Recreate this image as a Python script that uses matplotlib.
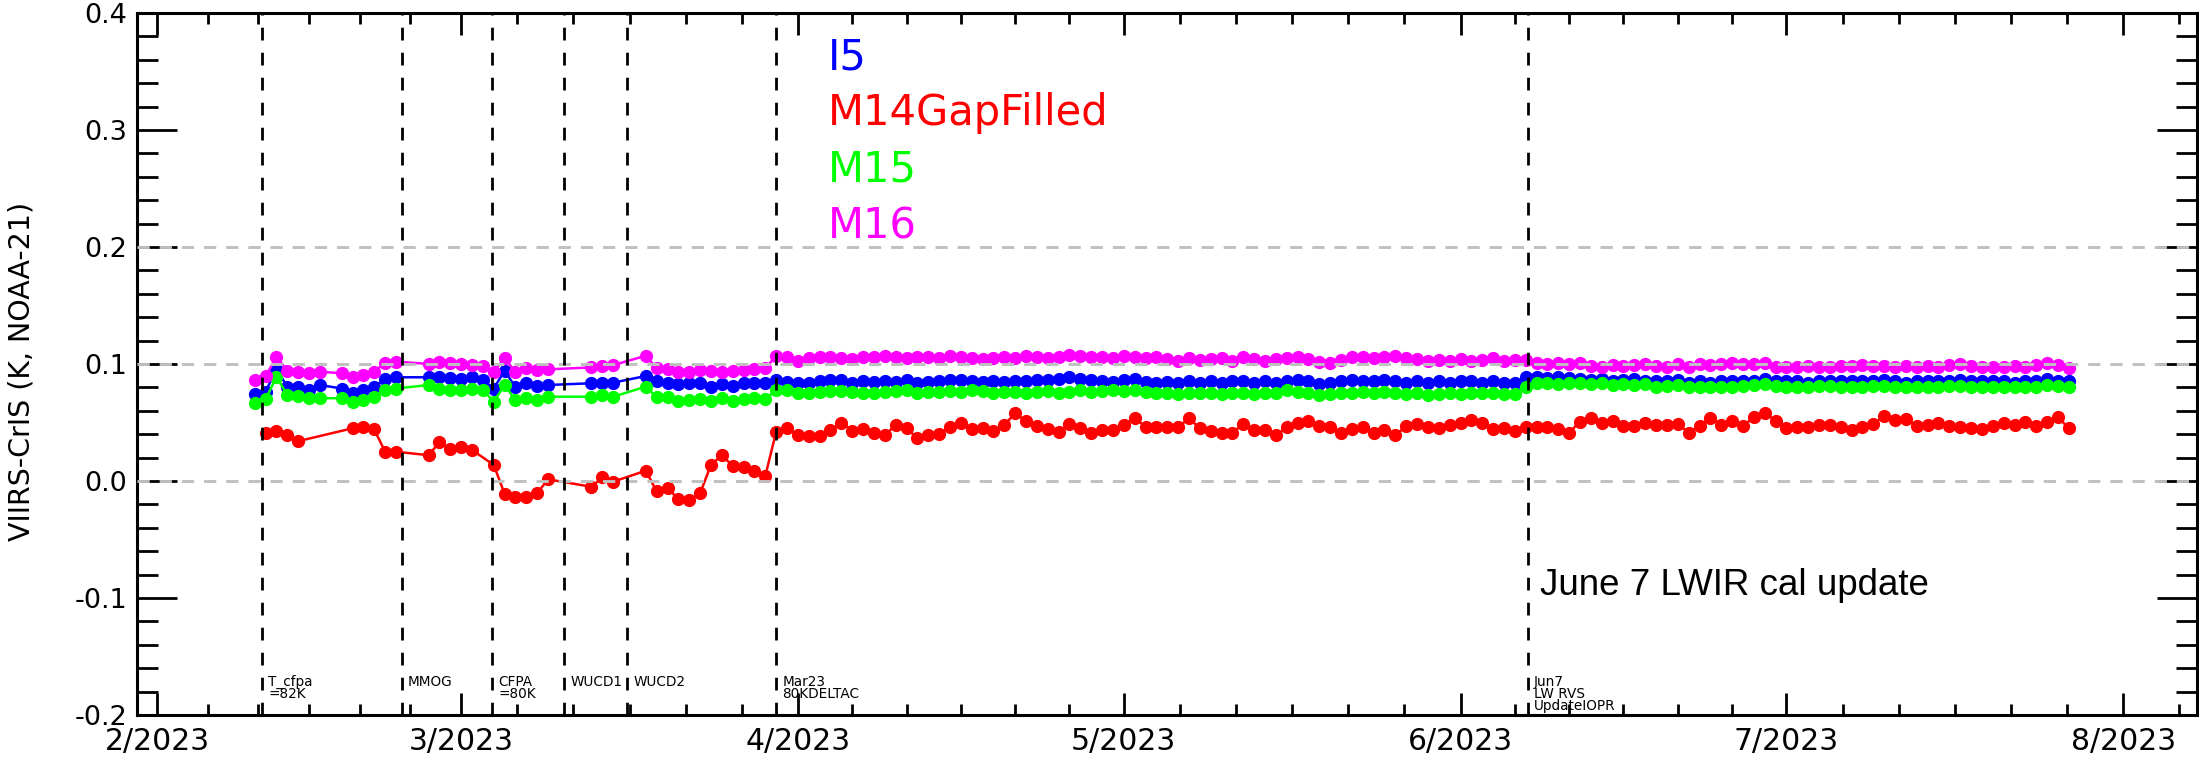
import numpy as np
import matplotlib
matplotlib.use('Agg')
import matplotlib.pyplot as plt
import matplotlib.dates as mdates
import datetime as dt

# day offsets are counted from 1 Feb 2023
start = dt.datetime(2023, 2, 1)
t0 = mdates.date2num(start)

days_bands = (list(range(9, 16)) + list(range(17, 23)) + list(range(25, 37))
              + [40, 41, 42] + list(range(45, 177)))
days_m14 = ([10, 11, 12, 13] + list(range(18, 23)) + list(range(25, 30))
            + list(range(31, 37)) + [40, 41, 42] + list(range(45, 177)))

i5 = [.0744, .0764, .0954, .0806, .0800, .0778, .0820,
      .0790, .0755, .0778, .0806, .0869, .0886,
      .0886, .0886, .0877, .0869, .0886, .0863, .0790, .0943, .0800, .0835, .0812, .0820,
      .0835, .0835, .0840,
      .0897, .0850, .0840, .0829, .0835, .0835, .0806, .0829, .0812, .0835, .0840, .0835,
      .0863, .0849, .0835, .0840, .0858, .0863, .0863, .0835, .0858, .0849,
      .0858, .0849, .0863, .0840, .0849, .0858, .0863, .0863, .0858, .0849,
      .0858, .0849, .0858, .0858, .0863, .0863, .0869, .0886, .0869, .0863,
      .0858, .0849, .0863, .0869, .0849, .0840, .0849, .0835,
      .085, .084, .085, .0835, .085, .085, .084, .085, .084, .0858,
      .0863, .085, .083, .084, .085, .0863, .0858, .085, .0863, .085,
      .084, .085, .084, .085, .084, .085, .085, .084, .085, .084, .0835,
      .0886, .0892, .0877, .0886, .0877, .0869, .0863, .0869, .0858, .0863, .0869, .0858,
      .085, .0858, .0863, .084, .085, .084, .085, .0858, .085, .0858,
      .0869, .0858, .085, .0858, .084, .085, .0858, .085, .0858, .085,
      .0858, .0863, .085, .084, .085, .085, .0858, .0858, .0863, .0858,
      .085, .0858, .085, .084, .0858, .0858, .0869, .0858, .085]

m14 = [.0407, .043, .039, .034,
       .045, .046, .044, .025, .025,
       .022, .033, .027, .029, .0265,
       .0137, -.011, -.0134, -.0134, -.0105, .0014,
       -.005, .003, -.0006,
       .0088, -.009, -.006, -.0157, -.016, -.0105, .0137, .022, .0128, .012, .0085, .0043,
       .042, .045, .039, .0387, .0387, .0436, .0499, .043, .044, .0407,
       .039, .0479, .045, .0365, .039, .040, .0464, .0499, .044, .045,
       .043, .0479, .0578, .0513, .047, .044, .042, .049, .045, .0407,
       .0436, .0436, .0479, .0536, .0464, .0464, .0464, .0459,
       .0536, .045, .043, .0413, .0413, .0487, .0436, .0436, .039, .0459,
       .0499, .0516, .047, .0459, .0407, .044, .0459, .0413, .0436, .039,
       .047, .0487, .0459, .045, .0479, .0493, .0521, .0493, .044, .045,
       .043, .0459, .0464, .0459, .044, .0413, .0507, .0536, .0499, .0516,
       .047, .047, .0493,
       .0479, .048, .049, .0413, .047, .0536, .048, .0516, .047, .0544,
       .0584, .0516, .045, .0459, .0459, .048, .048, .0459, .0436, .0459,
       .0487, .0556, .0521, .0527, .047, .048, .0499, .047, .0459, .045,
       .044, .047, .0493, .048, .0507, .047, .0507, .0544, .045]

m15 = [.067, .0698, .089, .0735, .0727, .0707, .0707,
       .0707, .0678, .0692, .072, .0778, .079,
       .082, .079, .078, .078, .079, .0778, .0678, .082, .069, .0707, .069, .072,
       .072, .0735, .072,
       .0806, .0715, .0715, .0687, .069, .0698, .0687, .0707, .0687, .0698, .0707, .0698,
       .0778, .0778, .0755, .0749, .0764, .0772, .0772, .0764, .0749, .0755,
       .0764, .0772, .0778, .0755, .0764, .0764, .0772, .0764, .0778, .0772,
       .0755, .0764, .0764, .0755, .0764, .0772, .0755, .0764, .0778, .0764,
       .0772, .0778, .0772, .0778, .0764, .0755, .0749, .0744,
       .0755, .0749, .0755, .0744, .0755, .0749, .0744, .0755, .0749, .0778,
       .0764, .0749, .0735, .0744, .0755, .0755, .0764, .0749, .0764, .0755,
       .0744, .0749, .0735, .0744, .0749, .0744, .0749, .0755, .0749, .0744, .0744,
       .0806, .0835, .084, .0829, .0835, .084, .0829, .0835, .0821, .0829, .0821, .0829,
       .0806, .0812, .0821, .0801, .0806, .0806, .0801, .0806, .0812, .0821,
       .0829, .0812, .0806, .0801, .0806, .0812, .0812, .0806, .0801, .0806,
       .0812, .0812, .0806, .0801, .0801, .0806, .0806, .0812, .0812, .0806,
       .0806, .0801, .0806, .0801, .0806, .0801, .0821, .0812, .0801]

m16 = [.0863, .0897, .1057, .0943, .0929, .092, .0934,
       .092, .0886, .0906, .0934, .101, .102,
       .100, .102, .1006, .100, .099, .098, .0934, .1048, .0934, .0963, .0949, .0954,
       .097, .098, .099,
       .107, .0963, .0954, .0934, .0934, .0949, .0943, .0934, .0943, .0949, .0954, .0963,
       .1068, .1063, .1028, .1048, .1063, .1057, .1048, .104, .1057, .1063,
       .1068, .1057, .1048, .1063, .1057, .1048, .1068, .1057, .1048, .104,
       .1048, .1057, .1048, .1068, .1057, .1048, .1063, .1077, .1068, .1057,
       .1063, .1048, .1068, .1057, .1048, .1057, .104, .1028,
       .1048, .1034, .104, .1048, .1028, .1057, .104, .1028, .104, .1048,
       .1057, .104, .102, .1011, .1034, .1063, .1057, .1048, .1063, .1068,
       .1048, .104, .1028, .1034, .1028, .104, .1028, .1034, .1048, .1028, .1034,
       .1034, .1011, .1, .1006, .1, .1011, .0983, .0977, .0991, .0983, .0991, .1,
       .0983, .0977, .1, .0972, .1, .0991, .1, .1011, .1, .1,
       .1011, .0977, .0972, .0977, .0983, .0977, .0972, .0983, .0983, .0991,
       .0983, .0983, .0977, .0983, .0977, .0983, .0977, .0991, .1, .0983,
       .0977, .0972, .0977, .0983, .0972, .0991, .1006, .0991, .0963]

band_names = ['I5', 'M14GapFilled', 'M15', 'M16']
band_colors = ['#0000ff', '#ff0000', '#00ff00', '#ff00ff']

# instrument events (day offsets) and their notes
event_days = [9.67, 22.56, 30.85, 37.48, 43.28, 57.0, 126.2]
event_notes = ['T_cfpa\n=82K', 'MMOG', 'CFPA\n=80K', 'WUCD1', 'WUCD2',
               'Mar23\n80KDELTAC', 'Jun7\nLW RVS\nUpdateIOPR']

tick_labels = ['2/2023', '3/2023', '4/2023', '5/2023', '6/2023', '7/2023', '8/2023']

fig = plt.figure(figsize=(21.99, 7.59), dpi=100)
ax = fig.add_axes([0.0623, 0.058, 0.9368, 0.925])

xb = t0 + np.array(days_bands)
xr = t0 + np.array(days_m14)
series = [(xb, i5), (xr, m14), (xb, m15), (xb, m16)]
for (xx, yy), c in zip(series, band_colors):
    ax.plot(xx, yy, '-', color=c, lw=1.8, marker='o', ms=8.5, mec=c, mfc=c, zorder=2)

for yv in [0.0, 0.1, 0.2]:
    ax.axhline(yv, color='#c0c0c0', lw=2.1, dashes=(4.2, 3.4), zorder=3)

for d, note in zip(event_days, event_notes):
    ax.axvline(t0 + d, color='black', lw=2.0, dashes=(4.6, 4.4), zorder=4)
    ax.text(t0 + d + 0.55, -0.166, note, fontsize=9.8, va='top', ha='left',
            linespacing=0.8, zorder=5)

# coloured band names
for k, (name, c) in enumerate(zip(band_names, band_colors)):
    ax.text(t0 + 61.8, 0.352 - k * 0.0482, name, color=c, fontsize=30,
            va='baseline', ha='left')

ax.text(t0 + 127.35, -0.0974, 'June 7 LWIR cal update', fontsize=26.5,
        family='Liberation Sans', va='baseline', ha='left')

# month ticks with six minor divisions per month
months = [mdates.date2num(dt.datetime(2023, m, 1)) for m in range(1, 10)]
minor = []
for a, b in zip(months[:-1], months[1:]):
    minor += [a + k * (b - a) / 6.0 for k in range(1, 6)]
ax.set_xticks(months[1:8])
ax.set_xticklabels(tick_labels, fontsize=21.5)
ax.set_xticks(minor, minor=True)
ax.set_xlim(t0 - 1.84, t0 + 187.8)

yt = [-0.2, -0.1, 0.0, 0.1, 0.2, 0.3, 0.4]
ax.set_yticks(yt)
ax.set_yticklabels(['%.1f' % v for v in yt], fontsize=19.5)
ax.set_yticks(np.arange(-0.2, 0.401, 0.02), minor=True)
ax.set_ylim(-0.2, 0.4)
ax.set_ylabel('VIIRS-CrIS (K, NOAA-21)', fontsize=20.5)
ax.yaxis.set_label_coords(-0.0495, 0.49)

ax.xaxis.set_tick_params(which='major', direction='in', top=True, length=16, width=2, pad=9)
ax.xaxis.set_tick_params(which='minor', direction='in', top=True, length=8, width=2)
ax.yaxis.set_tick_params(which='major', direction='in', right=True, length=29, width=2, pad=7)
ax.yaxis.set_tick_params(which='minor', direction='in', right=True, length=15, width=2)
for s in ax.spines.values():
    s.set_linewidth(2.2)

plt.savefig('out.png', dpi=100)
